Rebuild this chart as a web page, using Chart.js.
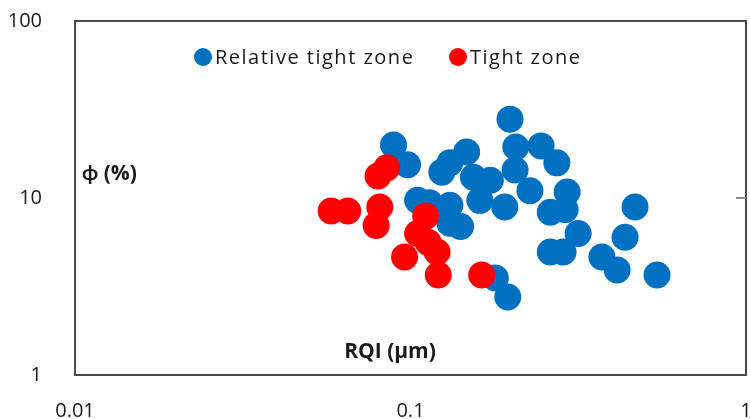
<!DOCTYPE html>
<html>
<head>
<meta charset="utf-8">
<script src="https://cdn.jsdelivr.net/npm/chart.js@4"></script>
<style>
  html, body { margin: 0; padding: 0; background: #fff; }
  #wrap { width: 750px; height: 419px; }
</style>
</head>
<body>
<div id="wrap"><canvas id="rqiChart" width="750" height="419"></canvas></div>
<script>
// RQI (µm) vs porosity (%)
const relTightRqi = [0.089, 0.098, 0.105, 0.114, 0.122, 0.124, 0.131, 0.131, 0.131, 0.141, 0.147, 0.154, 0.161, 0.173,
                     0.191, 0.198, 0.206, 0.205, 0.227, 0.245, 0.273, 0.293, 0.261, 0.289, 0.316, 0.261, 0.285,
                     0.372, 0.413, 0.467, 0.436, 0.543, 0.179, 0.195];
const relTightPhi = [19.9, 15.4, 9.7, 9.4, 8.6, 14.0, 15.8, 9.1, 7.2, 6.9, 18.2, 13.1, 9.7, 12.6,
                     8.9, 27.9, 19.4, 14.4, 11.0, 19.7, 15.8, 10.8, 8.3, 8.6, 6.3, 4.95, 4.95,
                     4.64, 3.92, 8.9, 6.0, 3.67, 3.53, 2.76];
const tightRqi = [0.058, 0.065, 0.081, 0.079, 0.080, 0.085, 0.111, 0.105, 0.113, 0.120, 0.096, 0.121, 0.163];
const tightPhi = [8.45, 8.45, 8.9, 7.0, 13.3, 14.8, 7.9, 6.3, 5.6, 4.95, 4.64, 3.67, 3.67];

const seriesNames = ['Relative tight zone', 'Tight zone'];
const seriesColors = ['#0070C0', '#FF0000'];
const xTicks = [0.01, 0.1, 1];
const yTicks = [1, 10, 100];
const xTitle = 'RQI (μm)';
const yTitle = 'ϕ (%)';

const FONT = '"Open Sans", Lato, sans-serif';
const toPoints = (xs, ys) => xs.map((x, i) => ({ x: x, y: ys[i] }));
const noPad = s => { s.paddingLeft = 0; s.paddingRight = 0; s.paddingTop = 0; s.paddingBottom = 0; };

// frame, axis titles and the in-plot legend
const framePlugin = {
    id: 'frame',
    afterDatasetsDraw(chart) {
        const { ctx, chartArea: a } = chart;
        ctx.save();
        ctx.strokeStyle = '#4a4a4a';
        ctx.lineWidth = 2;
        ctx.strokeRect(a.left, a.top, a.right - a.left, a.bottom - a.top);
        // small inner tick on the right side at 10
        const y10 = chart.scales.y.getPixelForValue(10);
        ctx.strokeStyle = '#888';
        ctx.beginPath();
        ctx.moveTo(a.right - 10, y10);
        ctx.lineTo(a.right, y10);
        ctx.stroke();

        ctx.fillStyle = '#1a1a1a';
        ctx.font = 'bold 21px ' + FONT;
        ctx.textBaseline = 'middle';
        ctx.textAlign = 'left';
        ctx.fillText(yTitle, a.left + 7, 174);
        ctx.textAlign = 'center';
        ctx.fillText(xTitle, 390, 352);

        // legend
        ctx.font = '20px ' + FONT;
        ctx.letterSpacing = '1.5px';
        ctx.textAlign = 'left';
        const legendX = [203, 458];
        seriesNames.forEach((name, i) => {
            ctx.fillStyle = seriesColors[i];
            ctx.beginPath();
            ctx.arc(legendX[i], 57, 9, 0, Math.PI * 2);
            ctx.fill();
            ctx.fillStyle = '#1a1a1a';
            ctx.fillText(name, legendX[i] + 12, 58);
        });
        ctx.restore();
    }
};

const ctx = document.getElementById('rqiChart').getContext('2d');
new Chart(ctx, {
    type: 'scatter',
    data: {
        datasets: [{
            label: seriesNames[0],
            data: toPoints(relTightRqi, relTightPhi),
            backgroundColor: seriesColors[0],
            borderWidth: 0,
            pointRadius: 13.5,
            order: 2
        }, {
            label: seriesNames[1],
            data: toPoints(tightRqi, tightPhi),
            backgroundColor: seriesColors[1],
            borderWidth: 0,
            pointRadius: 13.5,
            order: 1
        }]
    },
    options: {
        responsive: false,
        animation: false,
        layout: { autoPadding: false, padding: { top: 21, right: 4, left: 0, bottom: 0 } },
        plugins: {
            legend: { display: false },
            tooltip: { enabled: false }
        },
        scales: {
            x: {
                type: 'logarithmic',
                min: 0.01,
                max: 1,
                grid: { display: false },
                border: { display: false },
                afterBuildTicks: s => { s.ticks = xTicks.map(v => ({ value: v })); },
                afterFit: s => { s.height = 44; noPad(s); },
                ticks: {
                    padding: 16,
                    color: '#1a1a1a',
                    font: { family: FONT, size: 20 },
                    maxRotation: 0,
                    callback: v => String(v)
                }
            },
            y: {
                type: 'logarithmic',
                min: 1,
                max: 100,
                grid: { display: false },
                border: { display: false },
                afterBuildTicks: s => { s.ticks = yTicks.map(v => ({ value: v })); },
                afterFit: s => { s.width = 75; noPad(s); },
                ticks: {
                    padding: 25,
                    color: '#1a1a1a',
                    font: { family: FONT, size: 20 },
                    callback: v => String(v)
                }
            }
        }
    },
    plugins: [framePlugin]
});
</script>
</body>
</html>
